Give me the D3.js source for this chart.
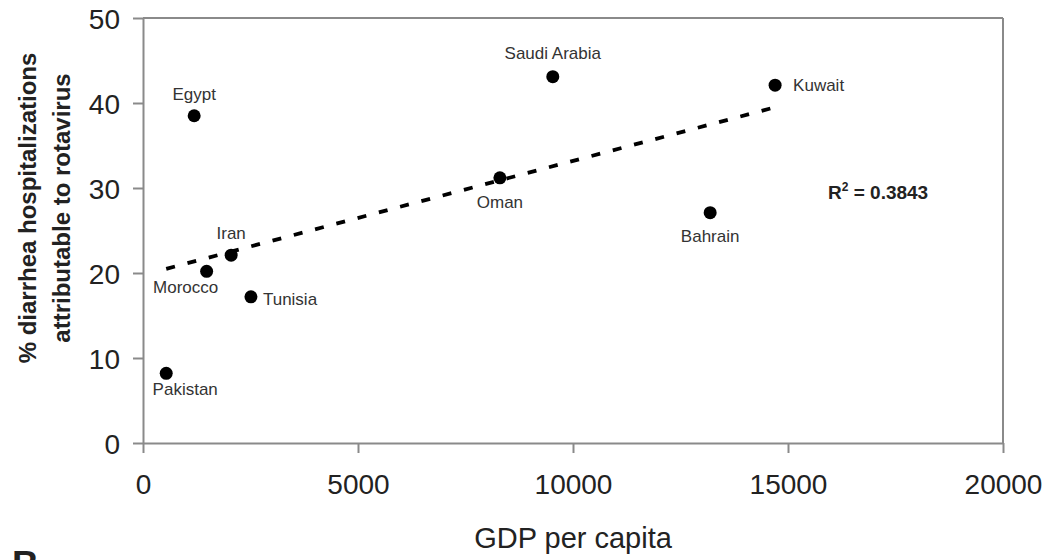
<!DOCTYPE html>
<html>
<head>
<meta charset="utf-8">
<script src="https://cdn.jsdelivr.net/npm/d3@7"></script>
<style>
  html, body { margin: 0; padding: 0; background: #fff; }
  svg { display: block; font-family: "Liberation Sans", Arial, sans-serif; }
</style>
</head>
<body>
<svg id="chart" width="1050" height="560"></svg>
<script>
// Rotavirus share of diarrhea hospitalizations vs GDP per capita
const countries = ["Pakistan", "Egypt", "Morocco", "Iran", "Tunisia", "Oman", "Saudi Arabia", "Bahrain", "Kuwait"];
const gdpPerCapita = [540, 1190, 1480, 2050, 2510, 8300, 9530, 13190, 14700];
const rotavirusPct = [8.2, 38.5, 20.2, 22.1, 17.2, 31.2, 43.1, 27.1, 42.1];
const xTicks = [0, 5000, 10000, 15000, 20000];
const yTicks = [0, 10, 20, 30, 40, 50];
const rSquaredText = "0.3843";

// Label placement around each marker: [dx, dy, anchor]
const labelPlacement = {
  "Pakistan":     [19, 22, "middle"],
  "Egypt":        [0, -16, "middle"],
  "Morocco":      [-21, 22, "middle"],
  "Iran":         [0, -16, "middle"],
  "Tunisia":      [12, 8, "start"],
  "Oman":         [0, 30, "middle"],
  "Saudi Arabia": [0, -18, "middle"],
  "Bahrain":      [0, 29, "middle"],
  "Kuwait":       [18, 6, "start"]
};

const svg = d3.select("#chart");
const plot = { left: 143, right: 1003, top: 18, bottom: 443 };
const axisColor = "#8a8a8a";
const textColor = "#222";

const x = d3.scaleLinear().domain([0, 20000]).range([plot.left, plot.right]);
const y = d3.scaleLinear().domain([0, 50]).range([plot.bottom, plot.top]);

const points = countries.map((name, i) => ({ name, gdp: gdpPerCapita[i], pct: rotavirusPct[i] }));

// Plot frame: top and right edges
svg.append("line")
  .attr("x1", plot.left).attr("x2", plot.right)
  .attr("y1", plot.top).attr("y2", plot.top)
  .attr("stroke", axisColor).attr("stroke-width", 2);
svg.append("line")
  .attr("x1", plot.right).attr("x2", plot.right)
  .attr("y1", plot.top).attr("y2", plot.bottom)
  .attr("stroke", axisColor).attr("stroke-width", 2);

// Axes
const xAxis = svg.append("g")
  .attr("transform", `translate(0,${plot.bottom})`)
  .call(d3.axisBottom(x).tickValues(xTicks).tickFormat(d3.format("d")).tickSize(10).tickSizeOuter(0).tickPadding(14));
const yAxis = svg.append("g")
  .attr("transform", `translate(${plot.left},0)`)
  .call(d3.axisLeft(y).tickValues(yTicks).tickSize(10).tickSizeOuter(0).tickPadding(13));

[xAxis, yAxis].forEach(g => {
  g.select(".domain").attr("stroke", axisColor).attr("stroke-width", 2);
  g.selectAll(".tick line").attr("stroke", axisColor).attr("stroke-width", 2);
  g.selectAll(".tick text")
    .attr("fill", textColor)
    .style("font-size", "28px")
    .style("font-family", "'Liberation Sans', Arial, sans-serif");
});
xAxis.selectAll(".tick text").attr("dy", "0.95em");
yAxis.selectAll(".tick text").attr("dy", "0.36em");

// Least-squares trend line across the observed GDP range
const mx = d3.mean(gdpPerCapita), my = d3.mean(rotavirusPct);
const sxy = d3.sum(gdpPerCapita, (v, i) => (v - mx) * (rotavirusPct[i] - my));
const sxx = d3.sum(gdpPerCapita, v => (v - mx) * (v - mx));
const slope = sxy / sxx;
const intercept = my - slope * mx;
const [gMin, gMax] = d3.extent(gdpPerCapita);
const trend = [gMin, gMax].map(g => [g, intercept + slope * g]);

svg.append("path")
  .attr("d", d3.line().x(d => x(d[0])).y(d => y(d[1]))(trend))
  .attr("fill", "none")
  .attr("stroke", "#000")
  .attr("stroke-width", 3.8)
  .attr("stroke-dasharray", "9 13");

// Markers
svg.append("g").selectAll("circle")
  .data(points)
  .join("circle")
  .attr("cx", d => x(d.gdp))
  .attr("cy", d => y(d.pct))
  .attr("r", 6.5)
  .attr("fill", "#000");

// Country labels
svg.append("g").selectAll("text")
  .data(points)
  .join("text")
  .attr("x", d => x(d.gdp) + labelPlacement[d.name][0])
  .attr("y", d => y(d.pct) + labelPlacement[d.name][1])
  .attr("text-anchor", d => labelPlacement[d.name][2])
  .attr("fill", "#333")
  .style("font-size", "17px")
  .text(d => d.name);

// Coefficient of determination
const r2 = svg.append("text")
  .attr("x", 828).attr("y", 199)
  .attr("fill", textColor)
  .style("font-size", "19px")
  .style("font-weight", "bold");
r2.append("tspan").text("R");
r2.append("tspan").attr("dy", -8).style("font-size", "12px").text("2");
r2.append("tspan").attr("dy", 8).text(" = " + rSquaredText);

// Axis titles
svg.append("text")
  .attr("x", x(10000)).attr("y", 548)
  .attr("text-anchor", "middle")
  .attr("fill", textColor)
  .style("font-size", "29px")
  .text("GDP per capita");

const yTitle = svg.append("text")
  .attr("transform", "translate(0,208) rotate(-90)")
  .attr("text-anchor", "middle")
  .attr("fill", textColor)
  .style("font-size", "24px")
  .style("font-weight", "bold");
yTitle.append("tspan").attr("x", 0).attr("y", 36).text("% diarrhea hospitalizations");
yTitle.append("tspan").attr("x", 0).attr("y", 70).text("attributable to rotavirus");

// Panel letter, running off the bottom edge
svg.append("text")
  .attr("x", 12).attr("y", 577)
  .attr("fill", textColor)
  .style("font-size", "37px")
  .style("font-weight", "bold")
  .text("B");
</script>
</body>
</html>
